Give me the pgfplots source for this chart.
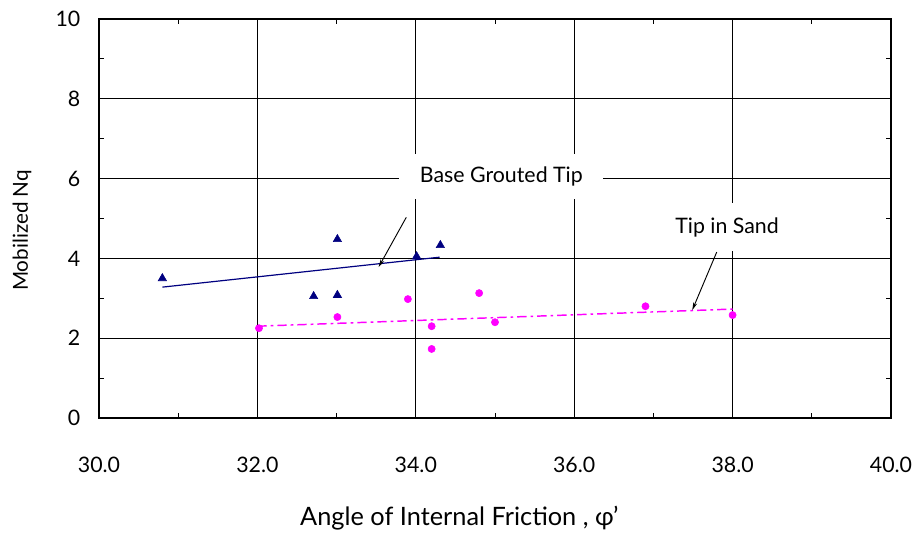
\documentclass[border=0pt]{standalone}
\usepackage{fontspec}
\setmainfont{Lato}
\usepackage{pgfplots}
\pgfplotsset{compat=1.18}
\usetikzlibrary{arrows.meta}
\definecolor{navyc}{RGB}{0,0,128}
\definecolor{magc}{RGB}{255,0,255}
\newcommand{\ff}{\fontsize{16}{19}\selectfont}
\begin{document}
\begin{tikzpicture}[font=\ff]
\useasboundingbox (-74.25pt,-87pt) rectangle (612pt,313.5pt);
\begin{axis}[
  scale only axis, width=594pt, height=299.25pt,
  xmin=30, xmax=40, ymin=0, ymax=10,
  xtick={30,32,...,40}, ytick={0,2,...,10},
  minor xtick={31,33,...,39}, minor ytick={1,3,...,9},
  tick align=inside, major tick length=0pt, minor tick length=4pt,
  grid=major, major grid style={black, line width=0.7pt},
  axis line style={black, line width=1.1pt},
  tick style={black, line width=0.6pt},
  /pgf/number format/assume math mode=true,
  xticklabel={\pgfmathprintnumber[fixed,fixed zerofill,precision=1]{\tick}},
  yticklabel={\pgfmathprintnumber[fixed,precision=0]{\tick}},
  tick label style={font=\ff},
  xticklabel style={anchor=center, yshift=-35pt},
  yticklabel style={anchor=east, xshift=-10.5pt},
  xlabel={Angle of Internal Friction , φ'},
  ylabel={Mobilized Nq},
  xlabel style={font=\fontsize{19}{22}\selectfont, at={(axis description cs:0.455,-0.252)}, anchor=center},
  ylabel style={font=\fontsize{15.5}{18}\selectfont, at={(axis description cs:-0.0972,0.47)}, anchor=center},
  clip=false,
]
% trend lines
\addplot[navyc, line width=0.9pt] coordinates {(30.8,3.28) (34.3,4.03)};
\addplot[magc, line width=1.1pt, dash pattern=on 7pt off 3pt on 2pt off 3pt] coordinates {(32.0,2.30) (38.0,2.73)};
% data
\addplot[only marks, mark=triangle*, mark size=3.6pt, color=navyc] coordinates {
(30.80,3.50) (32.71,3.05) (33.01,3.08) (33.01,4.48) (34.01,4.05) (34.31,4.33)};
\addplot[only marks, mark=*, mark size=2.7pt, color=magc] coordinates {
(32.02,2.25) (33.01,2.53) (33.90,2.98) (34.20,2.30) (34.20,1.73) (34.80,3.13) (35.00,2.40) (36.90,2.80) (38.00,2.58)};
% annotations
\node[fill=white, inner sep=0pt, minimum width=153pt, minimum height=34pt] at (axis cs:35.08,6.05) {Base Grouted Tip};
\draw[-{Stealth[length=6pt,width=3pt]}, line width=0.7pt] (axis cs:33.88,5.03) -- (axis cs:33.53,3.78);
\node[fill=white, inner sep=0pt, minimum width=125pt, minimum height=36pt] at (axis cs:37.93,4.78) {Tip in Sand};
\draw[-{Stealth[length=6pt,width=3pt]}, line width=0.7pt] (axis cs:37.8,4.16) -- (axis cs:37.49,2.70);
\end{axis}
\end{tikzpicture}
\end{document}
